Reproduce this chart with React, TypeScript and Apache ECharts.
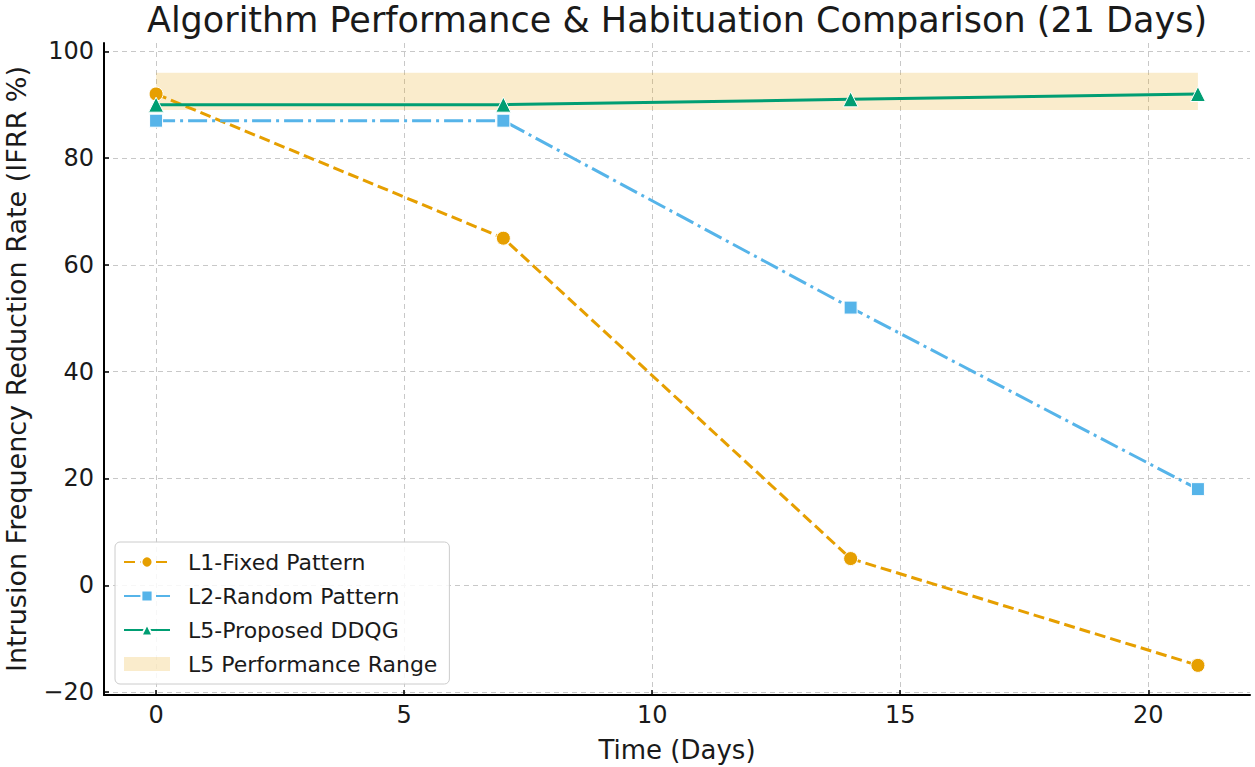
import React, { useEffect, useRef } from "react";
import * as echarts from "echarts";

const days = [0, 7, 14, 21];
const l1Fixed = [92, 65, 5, -15];
const l2Random = [87, 87, 52, 18];
const l5Proposed = [90, 90, 91, 92];
const bandLow = 89;
const bandHigh = 96;
const xTicks = [0, 5, 10, 15, 20];
const yTicks = [-20, 0, 20, 40, 60, 80, 100];

const FONT = "DejaVu Sans";

export default function App() {
  const ref = useRef<HTMLDivElement>(null);
  useEffect(() => {
    document.body.style.margin = "0";
    const chart = echarts.init(ref.current!, undefined, { renderer: "svg" });
    const pair = (ys: number[]) => days.map((d, i) => [d, ys[i]]);
    chart.setOption({
      animation: false,
      backgroundColor: "#ffffff",
      textStyle: { fontFamily: FONT },
      graphic: [
        {
          type: "text",
          x: 677,
          y: 20,
          style: {
            text: "Algorithm Performance & Habituation Comparison (21 Days)",
            fontFamily: FONT,
            fontSize: 35,
            fill: "#1a1a1a",
            textAlign: "center",
            textVerticalAlign: "middle",
          },
        },
      ],
      grid: { left: 104, right: 5, top: 43, bottom: 72, outerBoundsMode: "none", containLabel: false },
      xAxis: {
        type: "value",
        min: -1.05,
        max: 22.05,
        name: "Time (Days)",
        nameLocation: "middle",
        nameGap: 42,
        nameTextStyle: { fontFamily: FONT, fontSize: 26, color: "#1a1a1a" },
        axisLine: { onZero: false, lineStyle: { color: "#000", width: 2 } },
        axisTick: { inside: true, length: 5, customValues: xTicks, lineStyle: { color: "#000", width: 1.5 } },
        axisLabel: { customValues: xTicks, fontFamily: FONT, fontSize: 24, color: "#1a1a1a", margin: 8 },
        splitLine: { show: true, lineStyle: { color: "#c8c8c8", type: [5, 4], width: 1 } },
      },
      yAxis: {
        type: "value",
        min: -20.55,
        max: 101.55,
        name: "Intrusion Frequency Reduction Rate (IFRR %)",
        nameLocation: "middle",
        nameGap: 74,
        nameTextStyle: { fontFamily: FONT, fontSize: 27, color: "#1a1a1a" },
        axisLine: { show: true, onZero: false, lineStyle: { color: "#000", width: 2 } },
        axisTick: { show: true, inside: true, length: 5, customValues: yTicks, lineStyle: { color: "#000", width: 1.5 } },
        axisLabel: {
          customValues: yTicks,
          fontFamily: FONT,
          fontSize: 24,
          color: "#1a1a1a",
          margin: 10,
          formatter: (v: number) => (v < 0 ? "\u2212" + Math.abs(v) : String(v)),
        },
        splitLine: { show: true, lineStyle: { color: "#c8c8c8", type: [5, 4], width: 1 } },
      },
      legend: {
        orient: "vertical",
        left: 115,
        top: 542,
        padding: [8, 12, 8, 8],
        itemWidth: 46,
        itemHeight: 14,
        itemGap: 10,
        backgroundColor: "rgba(255,255,255,0.85)",
        borderColor: "#cccccc",
        borderWidth: 1,
        borderRadius: 5,
        textStyle: { fontFamily: FONT, fontSize: 22, color: "#1a1a1a", lineHeight: 24, padding: [0, 0, 0, 13] },
        data: [
          { name: "L1-Fixed Pattern" },
          { name: "L2-Random Pattern" },
          { name: "L5-Proposed DDQG" },
          { name: "L5 Performance Range", icon: "rect", itemStyle: { color: "rgba(230,159,0,0.2)" } },
        ],
      },
      series: [
        {
          name: "L5 Performance Range",
          type: "line",
          data: [],
          itemStyle: { color: "rgba(230,159,0,0.2)" },
          markArea: {
            silent: true,
            itemStyle: { color: "rgba(230,159,0,0.2)" },
            data: [[{ coord: [days[0], bandLow] }, { coord: [days[days.length - 1], bandHigh] }]],
          },
        },
        {
          name: "L1-Fixed Pattern",
          type: "line",
          data: pair(l1Fixed),
          symbol: "circle",
          symbolSize: 14,
          lineStyle: { color: "#E69F00", width: 3, type: [11, 5] },
          itemStyle: { color: "#E69F00", borderColor: "#ffffff", borderWidth: 1 },
          z: 3,
        },
        {
          name: "L2-Random Pattern",
          type: "line",
          data: pair(l2Random),
          symbol: "rect",
          symbolSize: 13,
          lineStyle: { color: "#56B4E9", width: 3, type: [19, 5, 3, 5] },
          itemStyle: { color: "#56B4E9", borderColor: "#ffffff", borderWidth: 1 },
          z: 3,
        },
        {
          name: "L5-Proposed DDQG",
          type: "line",
          data: pair(l5Proposed),
          symbol: "triangle",
          symbolSize: 15,
          lineStyle: { color: "#009E73", width: 3, type: "solid" },
          itemStyle: { color: "#009E73", borderColor: "#ffffff", borderWidth: 1 },
          z: 4,
        },
      ],
    });
    return () => chart.dispose();
  }, []);
  return <div ref={ref} style={{ position: "fixed", left: 0, top: 0, width: 1255, height: 767 }} />;
}
